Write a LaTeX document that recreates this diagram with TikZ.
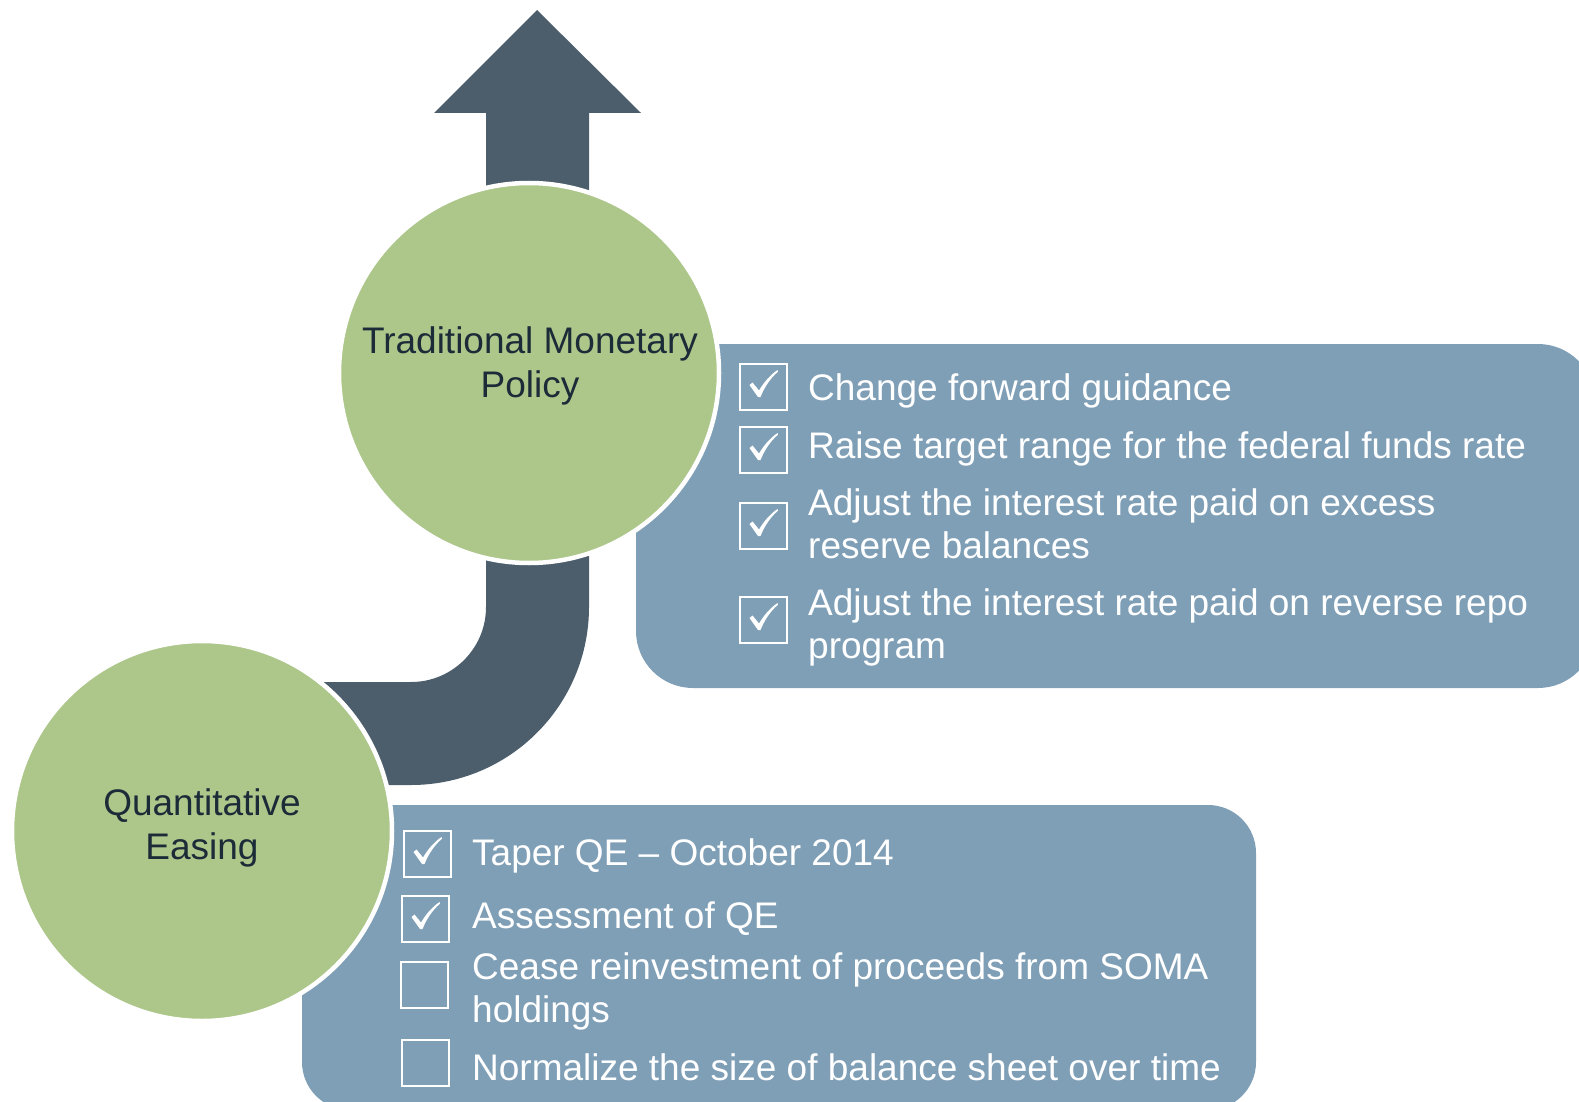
\documentclass[tikz,border=0pt]{standalone}
\usepackage{fontspec}
\setmainfont{Liberation Sans}
\definecolor{leaf}{HTML}{ADC78B}
\definecolor{slate}{HTML}{7F9FB7}
\definecolor{ink}{HTML}{4C5E6C}
\definecolor{navy}{HTML}{1C2B38}
\tikzset{
  stage/.style={circle, fill=leaf, draw=white, line width=4.5pt, minimum size=380pt, inner sep=0pt},
  stagetext/.style={text=navy, font=\fontsize{37}{44}\selectfont, align=center, inner sep=0pt},
  panel/.style={fill=slate, inner sep=0pt},
  band/.style={draw=ink, line width=103pt, rounded corners=126.5pt},
  tickbox/.style={draw=white, line width=2pt, minimum width=47pt, minimum height=46pt, inner sep=0pt},
  % multi-line items are anchored at the baseline of their last line
  itemtext/.style={text=white, font=\fontsize{37}{43}\selectfont, align=left, anchor=base west, inner sep=0pt},
  tick/.pic={
    \fill[white] (-14,-2) -- (-11,-4.5) -- (-4.5,3.5)
      .. controls (0,-4) and (6,-11.5) .. (14,-17)
      -- (14.5,-15.3)
      .. controls (7,-9) and (1,0) .. (-3,10)
      -- (-5.5,10) -- cycle;
  },
}
\begin{document}
\begin{tikzpicture}[x=1pt, y=-1pt]
  \useasboundingbox (0,0) rectangle (1579,1102);
  \clip (0,0) rectangle (1579,1102);

  % upward arrow leaving the top stage
  \fill[ink] (537,10) -- (641,113) -- (589,113) -- (589,260)
    -- (486,260) -- (486,113) -- (434,113) -- cycle;

  % text panels
  \node[panel, minimum width=959pt, minimum height=344pt, rounded corners=57pt]
    (opsPanel) at (1115.5,516) {};
  \node[panel, minimum width=954pt, minimum height=305pt, rounded corners=48pt]
    (qePanel) at (779,957.5) {};

  % stages
  \coordinate (tmpC) at (529,373);
  \coordinate (qeC) at (202,831);
  \draw[band] ([xshift=8.5pt]tmpC) |- ([yshift=97.5pt]qeC);
  \node[stage] (tmp) at (tmpC) {};
  \node[stage] (qe) at (qeC) {};
  \node[stagetext] (tmpLabel) at (530,365.5) {Traditional Monetary\\Policy};
  \node[stagetext] (qeLabel) at (202,827.5) {Quantitative\\Easing};

  % traditional policy checklist
  \node[tickbox] (b1) at (763.5,387) {};
  \node[tickbox] (b2) at (763.5,450) {};
  \node[tickbox] (b3) at (763.5,526) {};
  \node[tickbox] (b4) at (763.5,620) {};
  \pic at (b1) {tick};
  \pic at (b2) {tick};
  \pic at (b3) {tick};
  \pic at (b4) {tick};
  \node[itemtext] (i1) at (808,400) {Change forward guidance};
  \node[itemtext] (i2) at (808,458) {Raise target range for the federal funds rate};
  \node[itemtext] (i3) at (808,558) {Adjust the interest rate paid on excess\\reserve balances};
  \node[itemtext] (i4) at (808,658) {Adjust the interest rate paid on reverse repo\\program};

  % QE checklist
  \node[tickbox] (c1) at (427.5,854) {};
  \node[tickbox] (c2) at (425.5,919) {};
  \node[tickbox] (c3) at (424.5,985) {};
  \node[tickbox] (c4) at (425.5,1063) {};
  \pic at (c1) {tick};
  \pic at (c2) {tick};
  \node[itemtext] (j1) at (472,865) {Taper QE -- October 2014};
  \node[itemtext] (j2) at (472,928) {Assessment of QE};
  \node[itemtext] (j3) at (472,1022) {Cease reinvestment of proceeds from SOMA\\holdings};
  \node[itemtext] (j4) at (472,1080) {Normalize the size of balance sheet over time};
\end{tikzpicture}
\end{document}
